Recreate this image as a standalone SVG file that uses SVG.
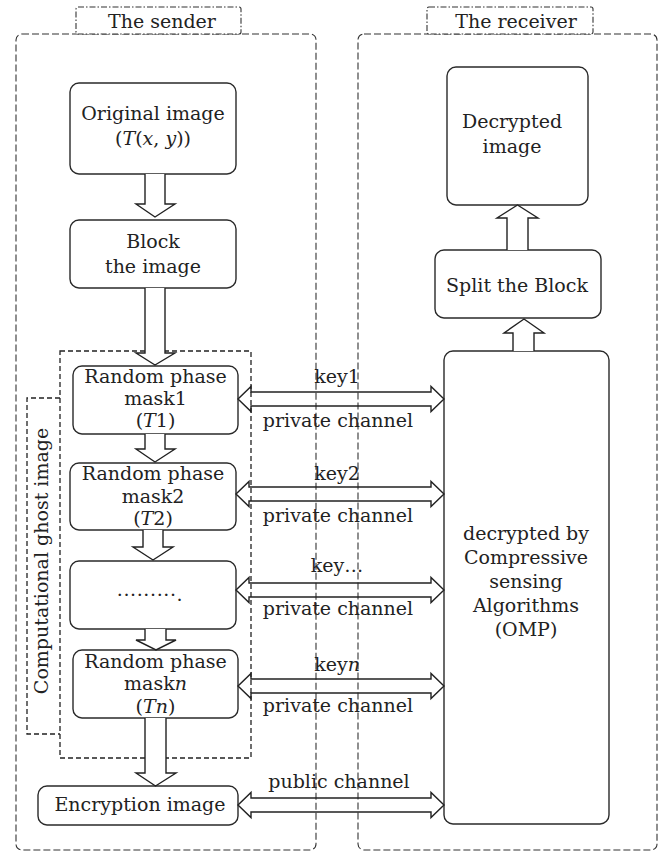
<svg xmlns="http://www.w3.org/2000/svg" width="670" height="852" viewBox="0 0 670 852">
  <style>
    text { font-family: "DejaVu Serif", "Liberation Serif", serif; font-size: 19px; fill: #222; text-anchor: middle; }
    .it { font-style: italic; }
    .node { fill: #fff; stroke: #2a2a2a; stroke-width: 1.4; }
    .zone { fill: none; stroke: #333; stroke-width: 1.1; stroke-dasharray: 7 3; }
    .tag { fill: #fff; stroke: #333; stroke-width: 1.1; stroke-dasharray: 6 2 1.5 2; }
    .ghost { fill: none; stroke: #222; stroke-width: 1.3; stroke-dasharray: 5 3; }
    .flow { fill: #fff; stroke: #222; stroke-width: 1.4; stroke-linejoin: miter; }
    .link { fill: none; stroke: #222; stroke-width: 1.4; }
  </style>

  <!-- party zones -->
  <g id="sender-zone">
    <rect class="zone" x="16" y="34" width="300" height="816" rx="6"/>
    <rect class="tag" x="76" y="7" width="165" height="27" rx="2"/>
    <text x="162" y="28">The sender</text>
  </g>
  <g id="receiver-zone">
    <rect class="zone" x="358" y="34" width="299" height="816" rx="6"/>
    <rect class="tag" x="427" y="7" width="166" height="27" rx="2"/>
    <text x="516" y="28">The receiver</text>
  </g>

  <!-- computational ghost imaging group -->
  <g id="ghost-group">
    <rect class="ghost" x="60" y="351" width="191" height="407"/>
    <path class="ghost" d="M60,398 H27 V734 H60"/>
    <text transform="translate(48,561) rotate(-90)">Computational ghost image</text>
  </g>

  <!-- sender nodes -->
  <g id="original">
    <rect class="node" x="70" y="83" width="166" height="91" rx="9"/>
    <text x="153" y="120">Original image</text>
    <text x="153" y="145">(<tspan class="it">T</tspan>(<tspan class="it">x</tspan>, <tspan class="it">y</tspan>))</text>
  </g>
  <g id="block">
    <rect class="node" x="70" y="220" width="166" height="68" rx="9"/>
    <text x="153" y="248">Block</text>
    <text x="153" y="273">the image</text>
  </g>
  <g id="mask1">
    <rect class="node" x="73" y="366" width="165" height="68" rx="9"/>
    <text x="155.5" y="383">Random phase</text>
    <text x="155.5" y="405">mask1</text>
    <text x="155.5" y="427">(<tspan class="it">T</tspan>1)</text>
  </g>
  <g id="mask2">
    <rect class="node" x="70" y="463" width="166" height="67" rx="9"/>
    <text x="153" y="480">Random phase</text>
    <text x="153" y="503">mask2</text>
    <text x="153" y="525">(<tspan class="it">T</tspan>2)</text>
  </g>
  <g id="mask-more">
    <rect class="node" x="70" y="561" width="166" height="68" rx="9"/>
    <text x="150" y="596" style="letter-spacing:0.6px">.........<tspan dy="5">.</tspan></text>
  </g>
  <g id="maskn">
    <rect class="node" x="73" y="650" width="165" height="68" rx="9"/>
    <text x="155.5" y="668">Random phase</text>
    <text x="155.5" y="690">mask<tspan class="it">n</tspan></text>
    <text x="155.5" y="713">(<tspan class="it">Tn</tspan>)</text>
  </g>
  <g id="encryption">
    <rect class="node" x="38" y="786" width="200" height="39" rx="9"/>
    <text x="140" y="811">Encryption image</text>
  </g>

  <!-- receiver nodes -->
  <g id="decrypted">
    <rect class="node" x="447" y="67" width="141" height="138" rx="9"/>
    <text x="512" y="128">Decrypted</text>
    <text x="512" y="153">image</text>
  </g>
  <g id="split">
    <rect class="node" x="435" y="250" width="166" height="68" rx="9"/>
    <text x="517" y="292">Split the Block</text>
  </g>
  <g id="omp">
    <rect class="node" x="444" y="351" width="165" height="473" rx="9"/>
    <text x="526" y="540">decrypted by</text>
    <text x="526" y="564">Compressive</text>
    <text x="526" y="588">sensing</text>
    <text x="526" y="612">Algorithms</text>
    <text x="526" y="636">(OMP)</text>
  </g>

  <!-- connectors -->
  <g id="connectors">
    <!-- sender flow (hollow block arrows) -->
    <path class="flow" d="M145,174 V204 H136 L155,217 L175,204 H165 V174"/>
    <path class="flow" d="M145,288 V353 H136 L155,365 L175,353 H165 V288"/>
    <path class="flow" d="M145,434 V449 H136 L155,462 L175,449 H165 V434"/>
    <path class="flow" d="M143,530 V547 H133 L153,560 L173,547 H163 V530"/>
    <path class="flow" d="M145,629 V640 H136 L156,650 L176,640 H166 V629"/>
    <path class="flow" d="M145,718 V773 H136 L155.5,786 L176,773 H166 V718"/>

    <!-- receiver flow -->
    <path class="flow" d="M507,250 V218 H497 L517.5,205 L538,218 H528 V250"/>
    <path class="flow" d="M513,351 V333 H504 L524,319 L544,333 H534 V351"/>

    <!-- key channels (double-headed hollow arrows) -->
    <path class="link" d="M238,399 L251,386.5 V392 H431 V386.5 L444,399 L431,411.5 V406 H251 V411.5 Z"/>
    <path class="link" d="M236,494 L249,481.5 V487 H431 V481.5 L444,494 L431,506.5 V501 H249 V506.5 Z"/>
    <path class="link" d="M236,590 L249,577.5 V583 H431 V577.5 L444,590 L431,602.5 V597 H249 V602.5 Z"/>
    <path class="link" d="M238,686 L251,673.5 V679 H431 V673.5 L444,686 L431,698.5 V693 H251 V698.5 Z"/>
    <path class="link" d="M238,805 L251,792.5 V798 H431 V792.5 L444,805 L431,817.5 V812 H251 V817.5 Z"/>

    <text x="337" y="383">key1</text>
    <text x="338" y="427">private channel</text>
    <text x="337" y="480">key2</text>
    <text x="338" y="522">private channel</text>
    <text x="337" y="572">key…</text>
    <text x="338" y="615">private channel</text>
    <text x="337" y="671">key<tspan class="it">n</tspan></text>
    <text x="338" y="712">private channel</text>
    <text x="339" y="788">public channel</text>
  </g>
</svg>
